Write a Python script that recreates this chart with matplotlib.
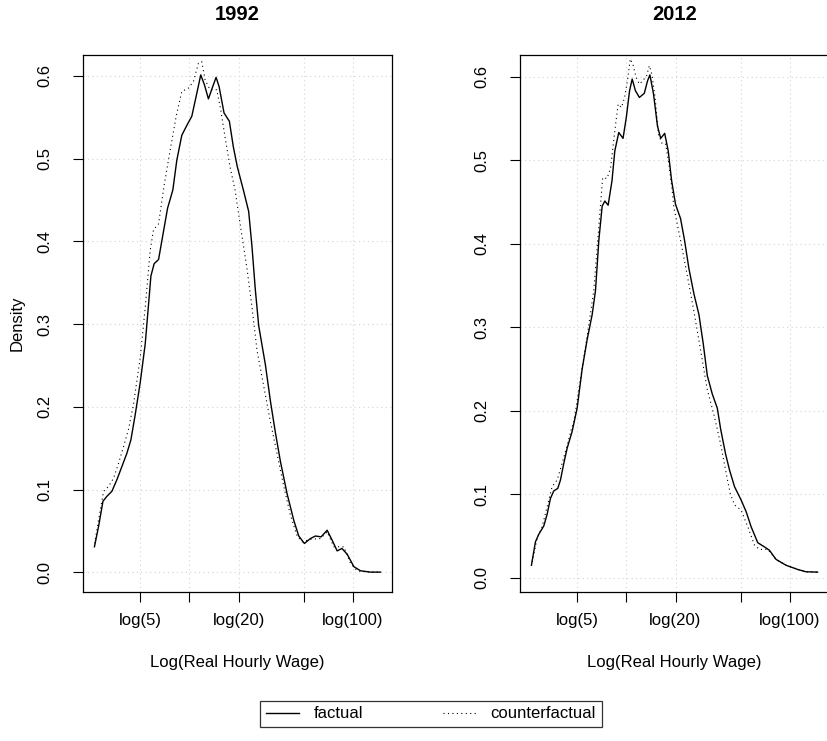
import numpy as np
import matplotlib
matplotlib.use("Agg")
import matplotlib.pyplot as plt

plt.rcParams['font.family'] = ['Liberation Sans', 'DejaVu Sans']

# ---------------- data (log real hourly wage, density) ----------------
x92_fact = [0.965, 1.024, 1.085, 1.141, 1.211, 1.281, 1.352, 1.422, 1.478, 1.538,
            1.609, 1.680, 1.727, 1.760, 1.806, 1.868, 1.915, 1.995, 2.069, 2.125,
            2.195, 2.266, 2.336, 2.397, 2.462, 2.514, 2.570, 2.631, 2.678, 2.720,
            2.790, 2.865, 2.921, 2.977, 3.062, 3.137, 3.184, 3.231, 3.278, 3.372,
            3.443, 3.513, 3.584, 3.678, 3.772, 3.842, 3.922, 4.007, 4.077, 4.157,
            4.242, 4.312, 4.383, 4.450, 4.524, 4.618, 4.712, 4.850, 4.994]
y92_fact = [0.031, 0.056, 0.086, 0.092, 0.098, 0.112, 0.128, 0.144, 0.160, 0.190,
            0.229, 0.276, 0.324, 0.358, 0.373, 0.378, 0.401, 0.440, 0.462, 0.498,
            0.528, 0.540, 0.551, 0.575, 0.601, 0.589, 0.572, 0.587, 0.598, 0.587,
            0.555, 0.545, 0.514, 0.490, 0.462, 0.436, 0.393, 0.341, 0.298, 0.251,
            0.207, 0.169, 0.134, 0.095, 0.063, 0.044, 0.035, 0.041, 0.044, 0.043,
            0.051, 0.039, 0.026, 0.029, 0.022, 0.007, 0.002, 0.0004, 0.0004]

x92_cf = [0.968, 1.024, 1.094, 1.164, 1.235, 1.305, 1.375, 1.445, 1.515, 1.609,
          1.680, 1.750, 1.797, 1.868, 1.947, 2.031, 2.116, 2.195, 2.289, 2.359,
          2.429, 2.476, 2.523, 2.593, 2.687, 2.743, 2.804, 2.874, 2.945, 3.020,
          3.113, 3.184, 3.255, 3.349, 3.443, 3.537, 3.631, 3.725, 3.820, 3.890,
          4.007, 4.148, 4.242, 4.336, 4.477, 4.571, 4.665, 4.850, 4.994]
y92_cf = [0.035, 0.064, 0.098, 0.104, 0.114, 0.132, 0.152, 0.173, 0.203, 0.259,
          0.320, 0.389, 0.414, 0.421, 0.468, 0.510, 0.551, 0.581, 0.585, 0.593,
          0.615, 0.617, 0.595, 0.583, 0.583, 0.559, 0.526, 0.490, 0.462, 0.419,
          0.367, 0.320, 0.268, 0.225, 0.182, 0.143, 0.104, 0.069, 0.044, 0.037,
          0.040, 0.041, 0.049, 0.031, 0.031, 0.011, 0.002, 0.0004, 0.0004]

x12_fact = [0.965, 1.021, 1.068, 1.139, 1.186, 1.233, 1.280, 1.336, 1.374, 1.421,
            1.468, 1.538, 1.609, 1.680, 1.750, 1.821, 1.868, 1.915, 1.962, 2.000,
            2.046, 2.100, 2.140, 2.196, 2.256, 2.302, 2.348, 2.385, 2.431, 2.487,
            2.556, 2.602, 2.635, 2.686, 2.741, 2.787, 2.843, 2.893, 2.940, 2.996,
            3.067, 3.123, 3.185, 3.255, 3.326, 3.387, 3.444, 3.514, 3.585, 3.632,
            3.702, 3.757, 3.828, 3.921, 3.992, 4.062, 4.155, 4.249, 4.319, 4.413,
            4.554, 4.717, 4.834, 4.998]
y12_fact = [0.015, 0.043, 0.052, 0.062, 0.076, 0.095, 0.104, 0.107, 0.117, 0.137,
            0.155, 0.175, 0.203, 0.250, 0.285, 0.315, 0.344, 0.404, 0.445, 0.451,
            0.446, 0.475, 0.511, 0.533, 0.526, 0.551, 0.583, 0.597, 0.583, 0.575,
            0.580, 0.595, 0.602, 0.579, 0.541, 0.526, 0.532, 0.511, 0.476, 0.447,
            0.430, 0.404, 0.370, 0.340, 0.315, 0.280, 0.242, 0.220, 0.203, 0.178,
            0.148, 0.129, 0.109, 0.093, 0.079, 0.061, 0.042, 0.037, 0.033, 0.022,
            0.015, 0.010, 0.0072, 0.0068]

x12_cf = [0.974, 1.045, 1.115, 1.186, 1.256, 1.327, 1.397, 1.468, 1.524, 1.562,
          1.656, 1.750, 1.844, 1.915, 1.969, 2.030, 2.080, 2.140, 2.187, 2.233,
          2.279, 2.325, 2.358, 2.394, 2.440, 2.487, 2.533, 2.589, 2.626, 2.662,
          2.708, 2.755, 2.810, 2.857, 2.903, 2.950, 2.973, 3.067, 3.161, 3.255,
          3.350, 3.444, 3.538, 3.632, 3.726, 3.770, 3.830, 3.921, 4.015, 4.109,
          4.179, 4.296, 4.413, 4.554, 4.717, 4.834, 4.998]
y12_cf = [0.019, 0.047, 0.061, 0.085, 0.109, 0.117, 0.137, 0.158, 0.177, 0.186,
          0.238, 0.289, 0.344, 0.421, 0.479, 0.478, 0.490, 0.535, 0.567, 0.563,
          0.575, 0.599, 0.621, 0.615, 0.599, 0.591, 0.595, 0.601, 0.613, 0.603,
          0.575, 0.531, 0.519, 0.519, 0.495, 0.463, 0.443, 0.404, 0.362, 0.319,
          0.272, 0.225, 0.195, 0.160, 0.118, 0.100, 0.087, 0.081, 0.061, 0.039,
          0.034, 0.034, 0.022, 0.015, 0.010, 0.0072, 0.0068]

titles = ["1992", "2012"]
xtick_values = [5, 10, 20, 50, 100]
xtick_labels = ["log(5)", "", "log(20)", "", "log(100)"]
ytick_values = [0.0, 0.1, 0.2, 0.3, 0.4, 0.5, 0.6]
legend_labels = ["factual", "counterfactual"]

panels = [(x92_fact, y92_fact, x92_cf, y92_cf),
          (x12_fact, y12_fact, x12_cf, y12_cf)]

# ---------------- figure ----------------
W, H = 828, 741
fig = plt.figure(figsize=(W / 100, H / 100), dpi=100)

def fr(left, top, right, bottom):
    return [left / W, 1 - bottom / H, (right - left) / W, (bottom - top) / H]

axes_px = [(83, 55, 392, 592), (520, 55, 829, 592)]
FS = 12

def r_lim(vals):
    lo, hi = min(vals), max(vals)
    d = (hi - lo) * 0.04
    return lo - d, hi + d

handles = []
for i, (xf, yf, xc, yc) in enumerate(panels):
    ax = fig.add_axes(fr(*axes_px[i]))
    h1, = ax.plot(xf, yf, color='black', lw=1.0, solid_joinstyle='round', zorder=3)
    h2, = ax.plot(xc, yc, color='black', lw=0.8, linestyle=(0, (1, 3)), zorder=3)
    if i == 0:
        handles = [h1, h2]
    ax.set_xlim(*r_lim(xf))
    ax.set_ylim(*r_lim(yf))
    ax.set_xticks(np.log(xtick_values))
    ax.set_xticklabels(xtick_labels)
    ax.set_yticks(ytick_values)
    ax.set_yticklabels([f"{v:.1f}" for v in ytick_values], rotation=90, va='center')
    ax.tick_params(axis='both', direction='out', length=7.2, width=0.8,
                   labelsize=FS, color='black')
    ax.tick_params(axis='x', pad=8)
    ax.tick_params(axis='y', pad=15)
    ax.grid(True, color='lightgray', linestyle=(0, (1, 3)), lw=0.8, zorder=0)
    for sp in ax.spines.values():
        sp.set_color('black')
        sp.set_linewidth(0.9)
    ax.set_xlabel("Log(Real Hourly Wage)", fontsize=FS)
    ax.xaxis.set_label_coords(0.5, -0.117)
    ax.set_title(titles[i], fontsize=14.5, fontweight='bold', pad=25)
    if i == 0:
        ax.set_ylabel("Density", fontsize=FS)
        ax.yaxis.set_label_coords(-0.19, 0.5)

leg = fig.legend(handles, legend_labels, ncol=2, loc='center',
                 bbox_to_anchor=(431 / W, 1 - 714 / H), fontsize=FS,
                 frameon=True, fancybox=False, edgecolor='black',
                 handlelength=2.0, handletextpad=0.85, columnspacing=4.8,
                 borderpad=0.35)
leg.get_frame().set_linewidth(0.9)

fig.savefig("out.png", dpi=100)
